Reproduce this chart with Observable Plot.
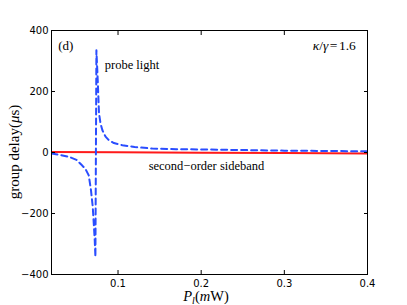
<!DOCTYPE html>
<html><head><meta charset="utf-8">
<script src="https://cdn.jsdelivr.net/npm/d3@7"></script>
<script src="https://cdn.jsdelivr.net/npm/@observablehq/plot@0.6"></script>
<style>
body{margin:0;background:#fff}
#chart svg{font-family:"DejaVu Sans",sans-serif;background:#fff}
</style>
</head><body><div id="chart"></div>
<script>
// probe light group delay (blue dashed)
const probeX = [0.020, 0.030, 0.0408, 0.050, 0.0567, 0.0610, 0.0648, 0.0675, 0.0696, 0.0708, 0.0720, 0.0728, 0.0740, 0.0756, 0.0771, 0.0790, 0.0812, 0.0850, 0.0891, 0.0950, 0.1052, 0.120, 0.1412, 0.170, 0.200, 0.250, 0.300, 0.350, 0.400];
const probeY = [-3, -8, -14, -24, -42, -55, -75, -124, -178, -232, -288, -342, 335, 237, 129, 95, 73, 52, 40, 31, 24, 18, 13, 11, 10, 8, 6, 5, 4];
// second-order sideband group delay (red solid)
const sideX = [0.02, 0.1, 0.2, 0.3, 0.4];
const sideY = [2, 1, -0.5, -2, -3];
const xTicks = [0.1, 0.2, 0.3, 0.4];
const yTicks = [-400, -200, 0, 200, 400];
const xDomain = [0.02, 0.4];
const yDomain = [-400, 400];
const panelNote = [{x: 0.0372, y: 350, text: "(d)"}];
const curveNotes = [
  {x: 0.084, y: 286, text: "probe light"},
  {x: 0.1368, y: -45, text: "second\u2212order sideband"}
];
const kappaNote = {x: 0.3865, y: 350};

const probe = probeX.map((x, i) => ({x, y: probeY[i]}));
const side = sideX.map((x, i) => ({x, y: sideY[i]}));

const plot = Plot.plot({
  width: 407, height: 305,
  marginLeft: 51, marginRight: 40, marginTop: 30, marginBottom: 31,
  style: {fontSize: "10px", color: "black", background: "white"},
  x: {domain: xDomain},
  y: {domain: yDomain},
  marks: [
    Plot.line(side, {x: "x", y: "y", stroke: "#ff1a1a", strokeWidth: 2, clip: true}),
    Plot.line(probe, {x: "x", y: "y", stroke: "#2a4dff", strokeWidth: 2, strokeDasharray: "6,4", clip: true}),
    Plot.text(panelNote, {x: "x", y: "y", text: "text", textAnchor: "middle", fontFamily: "Liberation Serif", fontSize: 13, fill: "black"}),
    Plot.text(curveNotes, {x: "x", y: "y", text: "text", textAnchor: "start", fontFamily: "Liberation Serif", fontSize: 12.5, fill: "black"}),
    // labels
    Plot.axisX(xTicks, {anchor: "bottom", tickSize: 0, tickPadding: 5, label: null, tickFormat: d => String(d), fontSize: 10}),
    Plot.axisY(yTicks, {anchor: "left", tickSize: 0, tickPadding: 3, label: null, tickFormat: d => String(d).replace("-", "\u2212"), fontSize: 10}),
    // inward ticks
    Plot.axisX(xTicks, {anchor: "bottom", tickSize: 4, dy: -4, tickFormat: () => "", label: null}),
    Plot.axisX(xTicks, {anchor: "top", tickSize: 4, dy: 4, tickFormat: () => "", label: null}),
    Plot.axisY(yTicks, {anchor: "left", tickSize: 4, dx: 4, tickFormat: () => "", label: null}),
    Plot.axisY(yTicks, {anchor: "right", tickSize: 4, dx: -4, tickFormat: () => "", label: null}),
    Plot.frame({stroke: "black", strokeWidth: 1})
  ]
});
document.getElementById("chart").appendChild(plot);

// rich-text labels
const svg = d3.select(plot);
const sx = plot.scale("x"), sy = plot.scale("y");
const serif = "Liberation Serif";

// kappa/gamma annotation
const k = svg.append("text")
  .attr("x", sx.apply(kappaNote.x)).attr("y", sy.apply(kappaNote.y))
  .attr("dy", "0.32em").attr("text-anchor", "end")
  .attr("font-family", serif).attr("font-size", 13.5).attr("fill", "black");
k.append("tspan").attr("font-style", "italic").text("\u03ba");
k.append("tspan").text("/");
k.append("tspan").attr("font-style", "italic").text("\u03b3");
k.append("tspan").attr("dx", 1.5).text("=");
k.append("tspan").attr("dx", 1.5).text("1.6");

// x label
const xl = svg.append("text")
  .attr("x", (sx.range[0] + sx.range[1]) / 2 - 3).attr("y", 301)
  .attr("text-anchor", "middle")
  .attr("font-family", serif).attr("font-size", 14.5).attr("fill", "black");
xl.append("tspan").attr("font-style", "italic").text("P");
xl.append("tspan").attr("font-style", "italic").attr("font-size", 10).attr("dy", 3).text("l");
xl.append("tspan").attr("dy", -3).text("(");
xl.append("tspan").attr("font-style", "italic").text("m");
xl.append("tspan").text("W)");

// y label
const yl = svg.append("text")
  .attr("transform", `translate(19,${(sy.range[0] + sy.range[1]) / 2}) rotate(-90)`)
  .attr("text-anchor", "middle")
  .attr("font-family", serif).attr("font-size", 15).attr("fill", "black");
yl.append("tspan").text("group delay(");
yl.append("tspan").attr("font-style", "italic").text("\u03bc");
yl.append("tspan").text("s)");
</script>
</body></html>
